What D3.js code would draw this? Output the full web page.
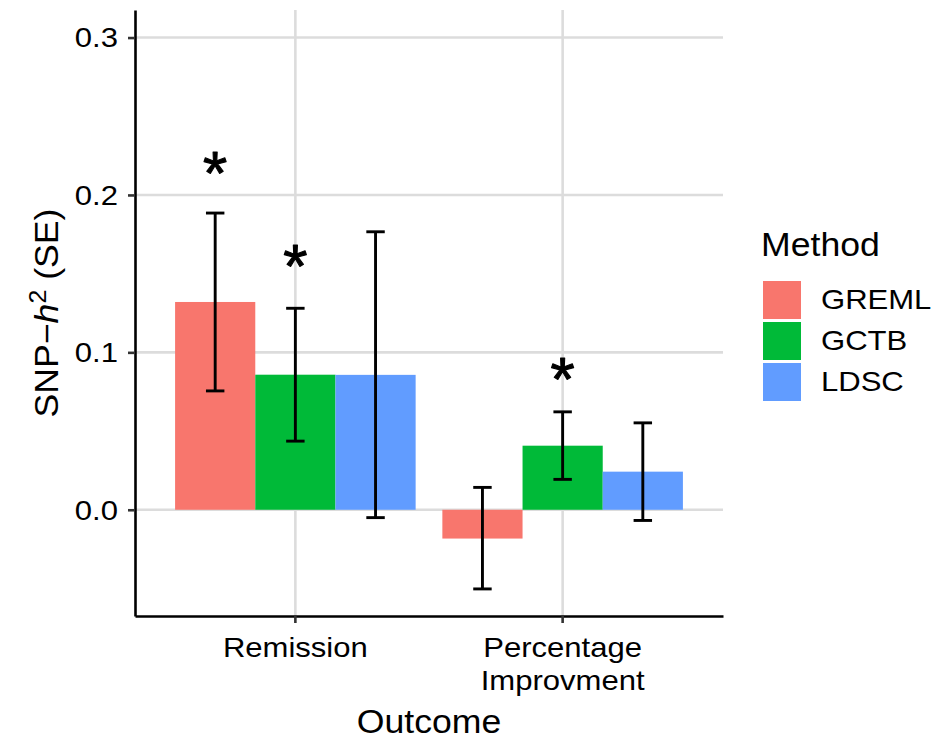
<!DOCTYPE html>
<html>
<head>
<meta charset="utf-8">
<script src="https://cdn.jsdelivr.net/npm/d3@7"></script>
<style>
  body { margin: 0; background: #ffffff; }
  text { font-family: "Liberation Sans", Arial, Helvetica, sans-serif; fill: #000; }
</style>
</head>
<body>
<svg id="chart" width="938" height="742"></svg>
<script>
// SNP heritability estimates by outcome and method, with error bar limits
const outcomes = ["Remission", "Percentage Improvment"];
const outcomeLabelLines = [["Remission"], ["Percentage", "Improvment"]];
const methods = ["GREML", "GCTB", "LDSC"];
const methodColors = ["#F8766D", "#00BA38", "#619CFF"];

const estRemission   = [0.1320, 0.0858, 0.0857];
const lowRemission   = [0.0755, 0.0436, -0.0050];
const highRemission  = [0.1885, 0.1280, 0.1766];

const estImprovement  = [-0.0183, 0.0407, 0.0242];
const lowImprovement  = [-0.0503, 0.0193, -0.0068];
const highImprovement = [0.0142, 0.0622, 0.0552];

// significance markers (height of the star, null = not significant)
const starRemission   = [0.2200, 0.1605, null];
const starImprovement = [null, 0.0890, null];

const yTicks = [0.0, 0.1, 0.2, 0.3];
const yLimits = [-0.0675, 0.3175];

const rows = [];
outcomes.forEach((o, i) => {
  const est = i === 0 ? estRemission : estImprovement;
  const lo = i === 0 ? lowRemission : lowImprovement;
  const hi = i === 0 ? highRemission : highImprovement;
  const st = i === 0 ? starRemission : starImprovement;
  methods.forEach((m, j) => {
    rows.push({ outcome: o, method: m, est: est[j], lo: lo[j], hi: hi[j], star: st[j] });
  });
});

const svg = d3.select("#chart");
const panel = { left: 135, right: 723, top: 10, bottom: 616 };

const x = d3.scaleBand().domain(outcomes).range([panel.left, panel.right])
  .paddingInner(0.1).paddingOuter(0.15);
const xm = d3.scaleBand().domain(methods).range([0, x.bandwidth()]).padding(0);
const y = d3.scaleLinear().domain(yLimits).range([panel.bottom, panel.top]);
const color = d3.scaleOrdinal().domain(methods).range(methodColors);

const labelSize = 27, labelStretch = 1.15;
const titleSize = 33, titleStretch = 1.08;

// grid
const grid = svg.append("g");
grid.selectAll("line.h").data(yTicks).join("line")
  .attr("x1", panel.left).attr("x2", panel.right)
  .attr("y1", d => y(d)).attr("y2", d => y(d))
  .attr("stroke", "#dcdcdc").attr("stroke-width", 2.6);
grid.selectAll("line.v").data(outcomes).join("line")
  .attr("x1", d => x(d) + x.bandwidth() / 2).attr("x2", d => x(d) + x.bandwidth() / 2)
  .attr("y1", panel.top).attr("y2", panel.bottom)
  .attr("stroke", "#dcdcdc").attr("stroke-width", 2.6);

// bars
svg.append("g").selectAll("rect").data(rows).join("rect")
  .attr("x", d => x(d.outcome) + xm(d.method))
  .attr("width", xm.bandwidth())
  .attr("y", d => y(Math.max(0, d.est)))
  .attr("height", d => Math.abs(y(d.est) - y(0)))
  .attr("fill", d => color(d.method));

// error bars
const capHalf = xm.bandwidth() * 0.115;
const eb = svg.append("g").attr("stroke", "#000").attr("stroke-width", 2.9).attr("fill", "none");
rows.forEach(d => {
  const cx = x(d.outcome) + xm(d.method) + xm.bandwidth() / 2;
  eb.append("line").attr("x1", cx).attr("x2", cx).attr("y1", y(d.lo)).attr("y2", y(d.hi));
  eb.append("line").attr("x1", cx - capHalf).attr("x2", cx + capHalf).attr("y1", y(d.lo)).attr("y2", y(d.lo));
  eb.append("line").attr("x1", cx - capHalf).attr("x2", cx + capHalf).attr("y1", y(d.hi)).attr("y2", y(d.hi));
});

// significance stars
const starSize = 62;
svg.append("g").selectAll("text").data(rows.filter(d => d.star !== null)).join("text")
  .attr("x", d => x(d.outcome) + xm(d.method) + xm.bandwidth() / 2)
  .attr("y", d => y(d.star) + starSize * 0.485)
  .attr("text-anchor", "middle")
  .attr("font-size", starSize)
  .attr("stroke", "#000")
  .attr("stroke-width", 1.1)
  .attr("stroke-linejoin", "round")
  .text("*");

// axes
const yAxis = svg.append("g").attr("transform", `translate(${panel.left},0)`)
  .call(d3.axisLeft(y).tickValues(yTicks).tickFormat(d3.format(".1f")).tickSize(7).tickSizeOuter(0));
const xAxis = svg.append("g").attr("transform", `translate(0,${panel.bottom})`)
  .call(d3.axisBottom(x).tickSize(7).tickSizeOuter(0));

[yAxis, xAxis].forEach(a => {
  a.select(".domain").attr("stroke", "#000").attr("stroke-width", 2.6);
  a.selectAll(".tick line").attr("stroke", "#333").attr("stroke-width", 2.6);
});
yAxis.selectAll(".tick text")
  .attr("x", null).attr("dy", null)
  .attr("dominant-baseline", "central")
  .attr("text-anchor", "end")
  .attr("font-size", labelSize)
  .attr("transform", `translate(-17,0) scale(${labelStretch},1)`)
  .style("fill", "#000");

xAxis.selectAll(".tick text").remove();
xAxis.selectAll(".tick").each(function(d, i) {
  const t = d3.select(this).append("text")
    .attr("text-anchor", "middle")
    .attr("font-size", labelSize)
    .attr("transform", `translate(0,41) scale(${labelStretch},1)`)
    .style("fill", "#000");
  outcomeLabelLines[i].forEach((line, k) => {
    t.append("tspan").attr("x", 0).attr("y", k * 33).text(line);
  });
});

// axis titles
svg.append("text")
  .attr("text-anchor", "middle")
  .attr("font-size", titleSize)
  .attr("transform", `translate(${(panel.left + panel.right) / 2},733) scale(${titleStretch},1)`)
  .text("Outcome");

const yt = svg.append("text")
  .attr("text-anchor", "middle")
  .attr("font-size", titleSize)
  .attr("transform", `translate(58,${(panel.top + panel.bottom) / 2}) rotate(-90) scale(${titleStretch},1)`);
yt.append("tspan").text("SNP\u2212");
yt.append("tspan").attr("font-style", "italic").text("h");
yt.append("tspan").attr("font-size", titleSize * 0.7).attr("dy", -12).text("2");
yt.append("tspan").attr("dy", 12).text(" (SE)");

// legend
const legend = svg.append("g").attr("transform", "translate(763,0)");
legend.append("text")
  .attr("font-size", titleSize)
  .attr("transform", `translate(-2,256) scale(${titleStretch},1)`)
  .text("Method");
const keys = legend.selectAll("g.key").data(methods).join("g")
  .attr("transform", (d, i) => `translate(0,${281 + i * 41})`);
keys.append("rect").attr("width", 38).attr("height", 38).attr("fill", d => color(d));
keys.append("text")
  .attr("font-size", labelSize)
  .attr("dominant-baseline", "central")
  .attr("transform", `translate(58,19) scale(${labelStretch},1)`)
  .text(d => d);
</script>
</body>
</html>
